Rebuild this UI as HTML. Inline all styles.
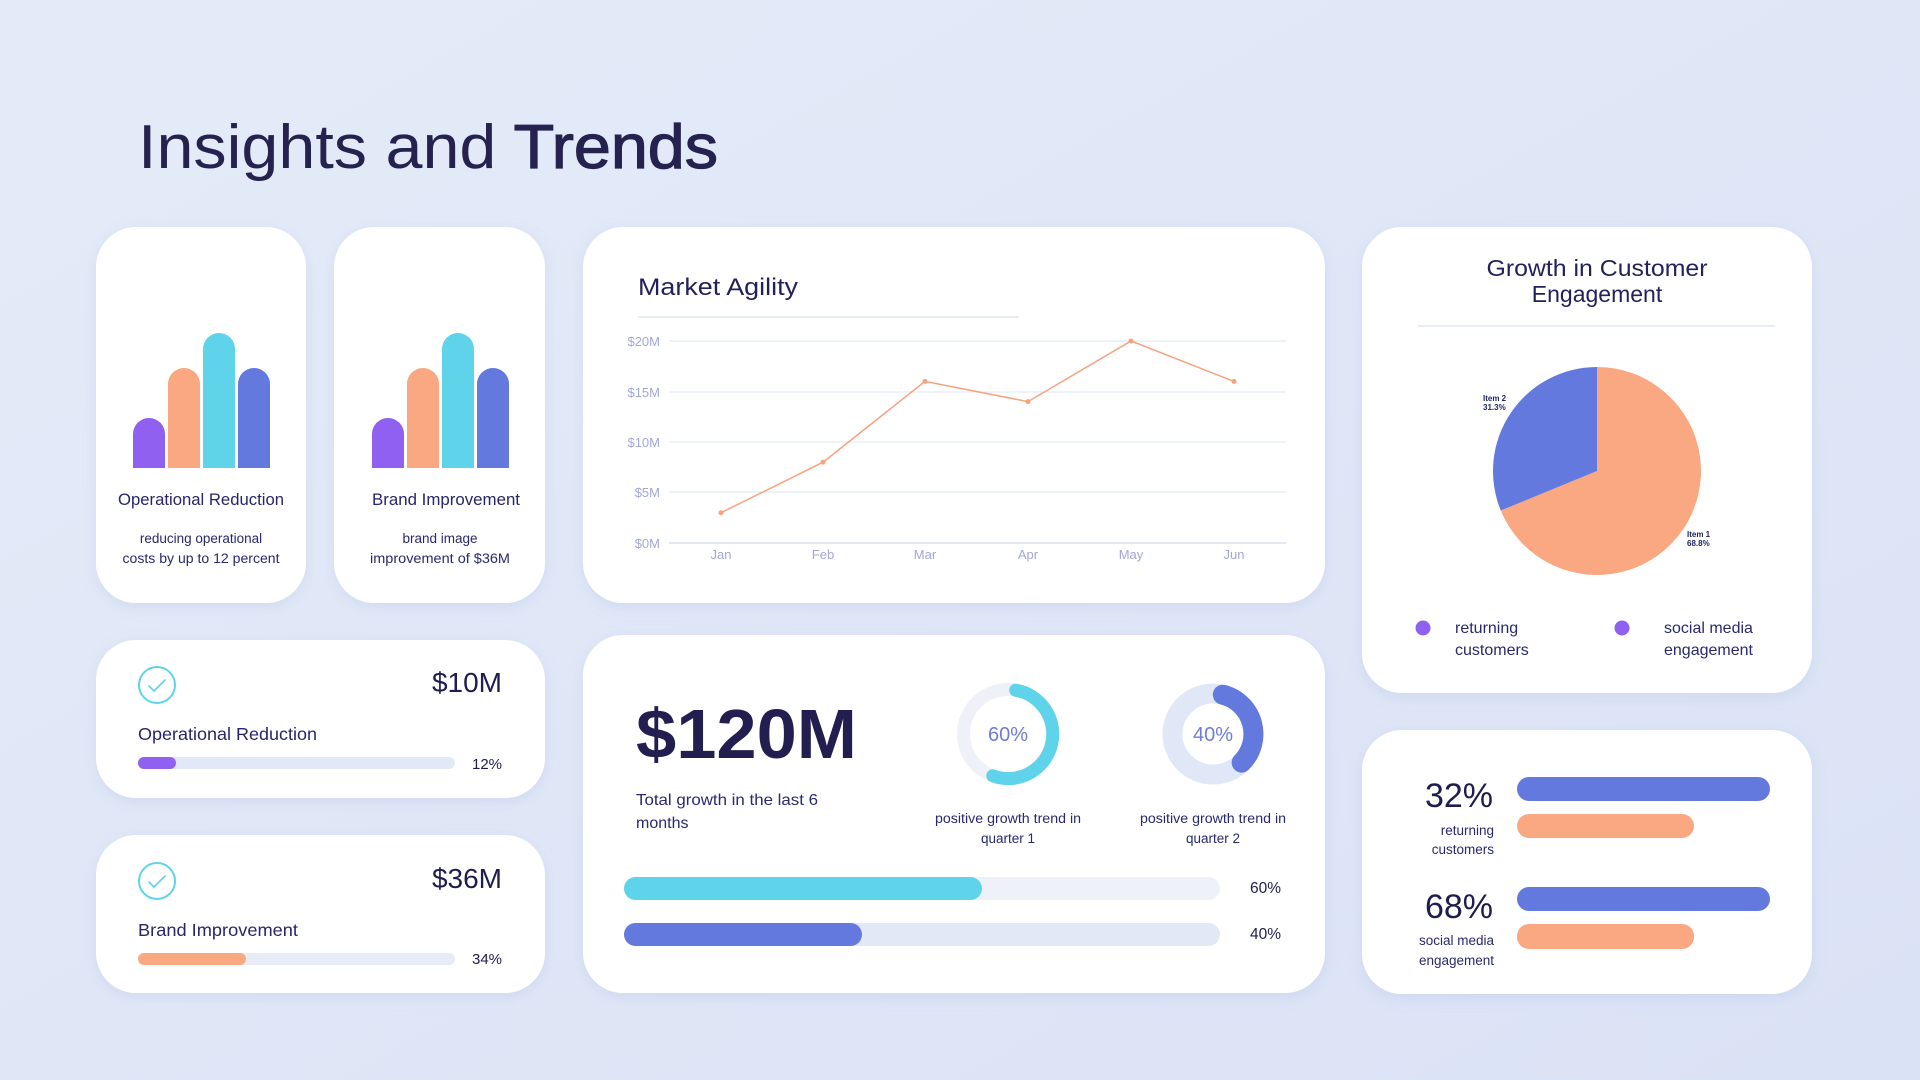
<!DOCTYPE html>
<html>
<head>
<meta charset="utf-8">
<style>
html,body{margin:0;padding:0;width:1920px;height:1080px;overflow:hidden;}
svg{display:block;}
text{font-family:"Liberation Sans",sans-serif;}
</style>
</head>
<body>
<svg width="1920" height="1080" viewBox="0 0 1920 1080" xmlns="http://www.w3.org/2000/svg">
<defs>
  <linearGradient id="bg" x1="0" y1="0" x2="1" y2="1">
    <stop offset="0" stop-color="#e4ebf8"/>
    <stop offset="0.5" stop-color="#dfe7f7"/>
    <stop offset="1" stop-color="#dae2f5"/>
  </linearGradient>
  <filter id="sh" x="-10%" y="-10%" width="120%" height="130%">
    <feDropShadow dx="0" dy="4" stdDeviation="7" flood-color="#98a9d8" flood-opacity="0.22"/>
  </filter>
</defs>
<rect width="1920" height="1080" fill="url(#bg)"/>

<!-- Title -->
<text x="138" y="168" font-size="62" fill="#25224f" textLength="580" lengthAdjust="spacingAndGlyphs">Insights and <tspan stroke="#25224f" stroke-width="1.2">Trends</tspan></text>

<!-- Cards -->
<g filter="url(#sh)" fill="#ffffff">
  <rect x="96" y="227" width="210" height="376" rx="40"/>
  <rect x="334" y="227" width="211" height="376" rx="40"/>
  <rect x="583" y="227" width="742" height="376" rx="40"/>
  <rect x="1362" y="227" width="450" height="466" rx="40"/>
  <rect x="96" y="640" width="449" height="158" rx="40"/>
  <rect x="96" y="835" width="449" height="158" rx="40"/>
  <rect x="583" y="635" width="742" height="358" rx="40"/>
  <rect x="1362" y="730" width="450" height="264" rx="40"/>
</g>

<!-- Tall card 1 bars -->
<g>
  <path d="M133 468 V434 A16 16 0 0 1 165 434 V468 Z" fill="#9061f0"/>
  <path d="M168 468 V384 A16 16 0 0 1 200 384 V468 Z" fill="#f9a882"/>
  <path d="M203 468 V349 A16 16 0 0 1 235 349 V468 Z" fill="#5fd3e9"/>
  <path d="M238 468 V384 A16 16 0 0 1 270 384 V468 Z" fill="#6479de"/>
</g>
<text x="201" y="505" font-size="16.5" fill="#27266a" text-anchor="middle" textLength="166" lengthAdjust="spacingAndGlyphs">Operational Reduction</text>
<text x="201" y="543" font-size="13.5" fill="#28296e" text-anchor="middle">reducing operational</text>
<text x="201" y="563" font-size="13.5" fill="#28296e" text-anchor="middle" textLength="157" lengthAdjust="spacingAndGlyphs">costs by up to 12 percent</text>

<!-- Tall card 2 bars -->
<g>
  <path d="M372 468 V434 A16 16 0 0 1 404 434 V468 Z" fill="#9061f0"/>
  <path d="M407 468 V384 A16 16 0 0 1 439 384 V468 Z" fill="#f9a882"/>
  <path d="M442 468 V349 A16 16 0 0 1 474 349 V468 Z" fill="#5fd3e9"/>
  <path d="M477 468 V384 A16 16 0 0 1 509 384 V468 Z" fill="#6479de"/>
</g>
<text x="446" y="505" font-size="16.5" fill="#27266a" text-anchor="middle" textLength="148" lengthAdjust="spacingAndGlyphs">Brand Improvement</text>
<text x="440" y="543" font-size="13.5" fill="#28296e" text-anchor="middle">brand image</text>
<text x="440" y="563" font-size="13.5" fill="#28296e" text-anchor="middle" textLength="140" lengthAdjust="spacingAndGlyphs">improvement of $36M</text>

<!-- Market Agility -->
<text x="638" y="295" font-size="24" fill="#23215a" textLength="160" lengthAdjust="spacingAndGlyphs">Market Agility</text>
<line x1="638" y1="317" x2="1019" y2="317" stroke="#dfe5f3" stroke-width="1.5"/>
<g stroke="#e4e9f5" stroke-width="1.2">
  <line x1="669" y1="341" x2="1286" y2="341"/>
  <line x1="669" y1="392" x2="1286" y2="392"/>
  <line x1="669" y1="442" x2="1286" y2="442"/>
  <line x1="669" y1="492" x2="1286" y2="492"/>
</g>
<line x1="669" y1="543" x2="1286" y2="543" stroke="#d8dfef" stroke-width="1.6"/>
<g font-size="13" fill="#a2a7d6" text-anchor="end">
  <text x="660" y="346">$20M</text>
  <text x="660" y="397">$15M</text>
  <text x="660" y="447">$10M</text>
  <text x="660" y="497">$5M</text>
  <text x="660" y="548">$0M</text>
</g>
<g font-size="13" fill="#a2a7d6" text-anchor="middle">
  <text x="721" y="559">Jan</text>
  <text x="823" y="559">Feb</text>
  <text x="925" y="559">Mar</text>
  <text x="1028" y="559">Apr</text>
  <text x="1131" y="559">May</text>
  <text x="1234" y="559">Jun</text>
</g>
<polyline points="721,512.7 823,462.2 925,381.4 1028,401.6 1131,341 1234,381.4" fill="none" stroke="#f6a27f" stroke-width="1.5"/>
<g fill="#f6a27f">
  <circle cx="721" cy="512.7" r="2.5"/>
  <circle cx="823" cy="462.2" r="2.5"/>
  <circle cx="925" cy="381.4" r="2.5"/>
  <circle cx="1028" cy="401.6" r="2.5"/>
  <circle cx="1131" cy="341" r="2.5"/>
  <circle cx="1234" cy="381.4" r="2.5"/>
</g>

<!-- Pie card -->
<text x="1597" y="276" font-size="23" fill="#23215a" text-anchor="middle" textLength="221" lengthAdjust="spacingAndGlyphs">Growth in Customer</text>
<text x="1597" y="302" font-size="23" fill="#23215a" text-anchor="middle">Engagement</text>
<line x1="1418" y1="326" x2="1775" y2="326" stroke="#dfe5f3" stroke-width="1.5"/>
<path d="M1597 471 L1597 367 A104 104 0 1 1 1500.8 510.5 Z" fill="#f9a882"/>
<path d="M1597 471 L1500.8 510.5 A104 104 0 0 1 1597 367 Z" fill="#6479de"/>
<g font-size="8" font-weight="bold" fill="#1f2566">
  <text x="1483" y="401">Item 2</text>
  <text x="1483" y="410">31.3%</text>
  <text x="1687" y="537">Item 1</text>
  <text x="1687" y="546">68.8%</text>
</g>
<circle cx="1423" cy="628" r="7.5" fill="#9061f0"/>
<circle cx="1622" cy="628" r="7.5" fill="#9061f0"/>
<g font-size="16" fill="#28296e">
  <text x="1455" y="633">returning</text>
  <text x="1455" y="655">customers</text>
  <text x="1664" y="633">social media</text>
  <text x="1664" y="655">engagement</text>
</g>

<!-- Bottom right card -->
<text x="1493" y="807" font-size="34" fill="#1f1d4f" text-anchor="end">32%</text>
<text x="1494" y="835" font-size="13.5" fill="#28296e" text-anchor="end">returning</text>
<text x="1494" y="854" font-size="13.5" fill="#28296e" text-anchor="end">customers</text>
<text x="1493" y="918" font-size="34" fill="#1f1d4f" text-anchor="end">68%</text>
<text x="1494" y="945" font-size="13.5" fill="#28296e" text-anchor="end">social media</text>
<text x="1494" y="965" font-size="13.5" fill="#28296e" text-anchor="end">engagement</text>
<rect x="1517" y="777" width="253" height="24" rx="12" fill="#6479de"/>
<rect x="1517" y="814" width="177" height="24" rx="12" fill="#f9a882"/>
<rect x="1517" y="887" width="253" height="24" rx="12" fill="#6479de"/>
<rect x="1517" y="924" width="177" height="25" rx="12" fill="#f9a882"/>

<!-- Small card 1 -->
<circle cx="157" cy="685" r="18" fill="none" stroke="#5fd3e9" stroke-width="2"/>
<polyline points="149,686 154,691 165,680" fill="none" stroke="#5fd3e9" stroke-width="1.6" stroke-linecap="round" stroke-linejoin="round"/>
<text x="502" y="692" font-size="28" fill="#1f1d4f" text-anchor="end">$10M</text>
<text x="138" y="740" font-size="17.5" fill="#27266a" textLength="179" lengthAdjust="spacingAndGlyphs">Operational Reduction</text>
<rect x="138" y="757" width="317" height="12" rx="6" fill="#e1e8f6"/>
<rect x="138" y="757" width="38" height="12" rx="6" fill="#9061f0"/>
<text x="472" y="769" font-size="15" fill="#1f1d4f">12%</text>

<!-- Small card 2 -->
<circle cx="157" cy="881" r="18" fill="none" stroke="#5fd3e9" stroke-width="2"/>
<polyline points="149,882 154,887 165,876" fill="none" stroke="#5fd3e9" stroke-width="1.6" stroke-linecap="round" stroke-linejoin="round"/>
<text x="502" y="888" font-size="28" fill="#1f1d4f" text-anchor="end">$36M</text>
<text x="138" y="936" font-size="17.5" fill="#27266a" textLength="160" lengthAdjust="spacingAndGlyphs">Brand Improvement</text>
<rect x="138" y="953" width="317" height="12" rx="6" fill="#e6ebf5"/>
<rect x="138" y="953" width="108" height="12" rx="6" fill="#f9a882"/>
<text x="472" y="964" font-size="15" fill="#1f1d4f">34%</text>

<!-- Middle bottom card -->
<text x="636" y="758" font-size="70" font-weight="bold" fill="#221f50" textLength="221" lengthAdjust="spacingAndGlyphs">$120M</text>
<text x="636" y="805" font-size="16" fill="#28296e" textLength="182" lengthAdjust="spacingAndGlyphs">Total growth in the last 6</text>
<text x="636" y="828" font-size="16" fill="#28296e">months</text>

<!-- Donut 1 -->
<circle cx="1008" cy="734" r="44.5" fill="none" stroke="#eef1f8" stroke-width="13"/>
<path d="M1015.7 690.2 A44.5 44.5 0 1 1 992.8 775.8" fill="none" stroke="#5fd3e9" stroke-width="13" stroke-linecap="round"/>
<text x="1008" y="741" font-size="20" fill="#6f7cd9" text-anchor="middle">60%</text>
<text x="1008" y="823" font-size="13.5" fill="#28296e" text-anchor="middle" textLength="146" lengthAdjust="spacingAndGlyphs">positive growth trend in</text>
<text x="1008" y="843" font-size="13.5" fill="#28296e" text-anchor="middle">quarter 1</text>

<!-- Donut 2 -->
<circle cx="1213" cy="734" r="40.5" fill="none" stroke="#e0e8f7" stroke-width="20"/>
<path d="M1222.8 694.7 A40.5 40.5 0 0 1 1241.6 762.6" fill="none" stroke="#6479de" stroke-width="20" stroke-linecap="round"/>
<text x="1213" y="741" font-size="20" fill="#6f7cd9" text-anchor="middle">40%</text>
<text x="1213" y="823" font-size="13.5" fill="#28296e" text-anchor="middle" textLength="146" lengthAdjust="spacingAndGlyphs">positive growth trend in</text>
<text x="1213" y="843" font-size="13.5" fill="#28296e" text-anchor="middle">quarter 2</text>

<!-- Progress bars -->
<rect x="624" y="877" width="596" height="23" rx="11.5" fill="#eef1f8"/>
<rect x="624" y="877" width="358" height="23" rx="11.5" fill="#5fd3e9"/>
<rect x="624" y="923" width="596" height="23" rx="11.5" fill="#e1e8f6"/>
<rect x="624" y="923" width="238" height="23" rx="11.5" fill="#6479de"/>
<text x="1250" y="893" font-size="15.5" fill="#1f1d4f">60%</text>
<text x="1250" y="939" font-size="15.5" fill="#1f1d4f">40%</text>
</svg>
</body>
</html>
